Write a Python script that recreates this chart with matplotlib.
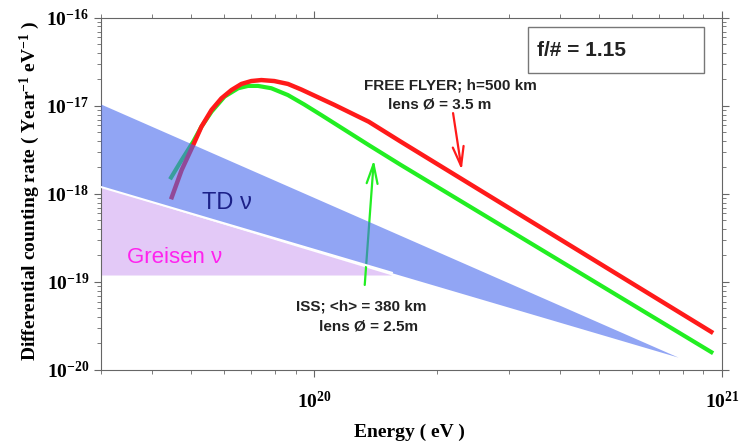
import numpy as np
import matplotlib
matplotlib.use("Agg")
import matplotlib.pyplot as plt
from matplotlib.patches import Rectangle
from matplotlib.ticker import FuncFormatter, NullFormatter, LogLocator

plt.rcParams['mathtext.fontset'] = 'custom'
plt.rcParams['mathtext.rm'] = 'Liberation Serif:bold'
plt.rcParams['mathtext.bf'] = 'Liberation Serif:bold'
plt.rcParams['mathtext.it'] = 'Liberation Serif:bold'

# free flyer (h=500 km, lens 3.5 m)
ff_energy = [4.455e19, 4.73e19, 5.05e19, 5.29e19, 5.60e19, 5.92e19, 6.27e19, 6.63e19, 7.01e19,
             7.42e19, 7.98e19, 8.62e19, 9.29e19, 1.12e20, 1.36e20, 1.63e20, 9.51e20]
ff_rate = [8.70e-19, 1.87e-18, 3.60e-18, 5.82e-18, 9.01e-18, 1.22e-17, 1.52e-17, 1.78e-17, 1.92e-17,
           1.97e-17, 1.92e-17, 1.78e-17, 1.54e-17, 1.03e-17, 6.63e-18, 3.93e-18, 2.63e-20]

# ISS (<h>=380 km, lens 2.5 m)
iss_energy = [4.43e19, 4.73e19, 5.05e19, 5.29e19, 5.60e19, 6.03e19, 6.51e19, 6.88e19, 7.28e19,
              7.85e19, 8.62e19, 9.45e19, 1.04e20, 1.12e20, 1.36e20, 1.63e20, 9.51e20]
iss_rate = [1.47e-18, 2.43e-18, 3.93e-18, 5.82e-18, 8.61e-18, 1.28e-17, 1.59e-17, 1.69e-17, 1.69e-17,
            1.59e-17, 1.33e-17, 1.04e-17, 7.90e-18, 6.36e-18, 3.60e-18, 2.14e-18, 1.55e-20]

# TD neutrino band
td_energy = [3e19, 7.8e20]
td_upper = [1.05e-17, 1.4e-20]
td_lower = [1.2e-18, 1.4e-20]

# Greisen neutrino band
greisen_energy = [3e19, 1.55e20]
greisen_upper = [1.2e-18, 1.2e-19]
greisen_floor = 1.2e-19

y_ticks = [1e-20, 1e-19, 1e-18, 1e-17, 1e-16]
x_ticks = [1e20, 1e21]

fig = plt.figure(figsize=(7.42, 4.47), dpi=100)
ax = fig.add_axes([0.1361, 0.1723, 0.837, 0.7875])
ax.set_xscale('log')
ax.set_yscale('log')
ax.set_xlim(3e19, 1e21)
ax.set_ylim(1e-20, 1e-16)

red = '#ff1a1a'
green = '#22ee22'

ax.plot(ff_energy, ff_rate, color=red, lw=3.2, solid_capstyle='butt', solid_joinstyle='round', zorder=2)
ax.plot(iss_energy, iss_rate, color=green, lw=3.0, solid_capstyle='butt', solid_joinstyle='round', zorder=1.9)

ax.fill_between(greisen_energy, greisen_upper, greisen_floor, color='#e3c9f7', lw=0, zorder=1)
ax.fill_between(td_energy, td_upper, td_lower, color='#4869ee', alpha=0.6, lw=0, zorder=3)
# white line between the two bands
lower_slope = np.log10(td_lower[1] / td_lower[0]) / np.log10(td_energy[1] / td_energy[0])
ax.plot(greisen_energy,
        [td_lower[0] * (e / td_energy[0]) ** lower_slope for e in greisen_energy],
        color='white', lw=1.5, zorder=3.1)

# arrows
ax.annotate('', xy=(2.30e20, 1.87e-18), xytext=(2.19e20, 8.3e-18),
            arrowprops=dict(arrowstyle='->,head_length=1.0,head_width=0.28', color=red, lw=1.6,
                            mutation_scale=14, shrinkA=0, shrinkB=0), zorder=4)
ax.annotate('', xy=(1.40e20, 2.43e-18), xytext=(1.33e20, 9.25e-20),
            arrowprops=dict(arrowstyle='->,head_length=1.0,head_width=0.28', color=green, lw=1.6,
                            mutation_scale=14, shrinkA=0, shrinkB=0), zorder=2.5)

sans = 'Liberation Sans'
txt = '#222222'
ax.text(2.16e20, 1.69e-17, 'FREE FLYER; h=500 km', ha='center', va='center',
        fontsize=11, fontweight='bold', family=sans, color=txt)
ax.text(2.03e20, 1.03e-17, 'lens Ø = 3.5 m', ha='center', va='center',
        fontsize=11, fontweight='bold', family=sans, color=txt)
ax.text(9.04e19, 5.2e-20, 'ISS; <h> = 380 km', ha='left', va='center',
        fontsize=11, fontweight='bold', family=sans, color=txt)
ax.text(1.03e20, 3.16e-20, 'lens Ø = 2.5m', ha='left', va='center',
        fontsize=11, fontweight='bold', family=sans, color=txt)
ax.text(5.3e19, 7.9e-19, 'TD ν', ha='left', va='center',
        fontsize=17, family=sans, color='#1c2188')
ax.text(3.47e19, 1.92e-19, 'Greisen ν', ha='left', va='center',
        fontsize=16, family=sans, color='#ff22ee')

fig.patches.append(Rectangle((528 / 742, 1 - 73 / 447), 176 / 742, 46 / 447,
                             transform=fig.transFigure, fill=False, edgecolor='#777777', lw=1))
fig.text(537 / 742, 1 - 50 / 447, 'f/# = 1.15', ha='left', va='center',
         fontsize=15, fontweight='bold', family=sans, color=txt)

for s in ax.spines.values():
    s.set_color('#666666')
ax.tick_params(which='both', direction='out', top=True, right=True, colors='#666666',
               labelcolor='black', labelsize=14)
ax.tick_params(which='major', length=5)
ax.tick_params(which='minor', length=3)
ax.tick_params(axis='x', which='major', pad=10)
ax.set_xticks(x_ticks)
ax.set_yticks(y_ticks)
ax.yaxis.set_minor_locator(LogLocator(base=10, subs=np.arange(2, 10)))
ax.xaxis.set_minor_locator(LogLocator(base=10, subs=np.arange(2, 10)))
expo_fmt = FuncFormatter(lambda v, p: r'$\mathbf{10^{%d}}$' % round(np.log10(v)))
ax.xaxis.set_major_formatter(expo_fmt)
ax.yaxis.set_major_formatter(expo_fmt)
ax.xaxis.set_minor_formatter(NullFormatter())
ax.yaxis.set_minor_formatter(NullFormatter())

ax.set_xlabel('Energy ( eV )', family='Liberation Serif', fontweight='bold', fontsize=14)
ax.xaxis.set_label_coords(0.497, -0.152)
ax.set_ylabel('Differential counting rate ( Year$^{-1}$ eV$^{-1}$ )', family='Liberation Serif',
              fontweight='bold', fontsize=14)
ax.yaxis.set_label_coords(-0.095, 0.51)

plt.savefig('out.png', dpi=100)
plt.close()
